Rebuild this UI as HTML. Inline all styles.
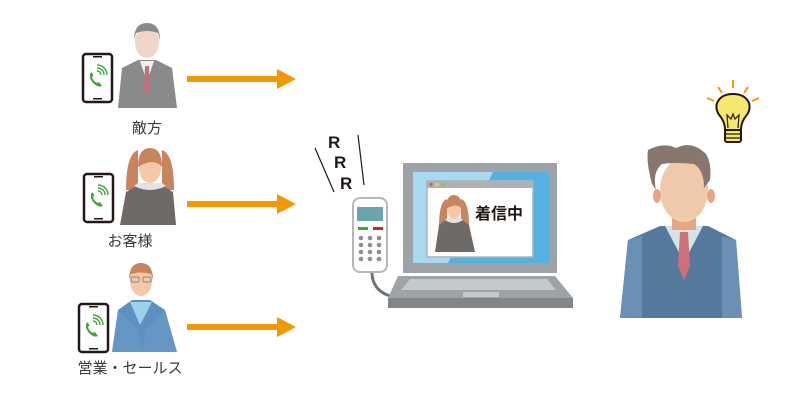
<!DOCTYPE html>
<html><head><meta charset="utf-8"><style>body{margin:0;background:#fff}svg{display:block}text{font-family:"Liberation Sans","Noto Sans CJK JP",sans-serif}</style></head><body>
<svg width="800" height="400" viewBox="0 0 800 400">
<defs>
<g id="ph"><rect x="0" y="0" width="29" height="48" rx="3" fill="#fff" stroke="#231815" stroke-width="2.5"/><rect x="10" y="2" width="9" height="1.5" fill="#231815"/><rect x="10" y="44" width="9" height="1.5" fill="#231815"/>
<path d="M8 18 q-3 5 2 11 q5 5 9 3 l-3 -4 l-2 1 q-4 -2 -5 -6 l1.5 -2z" fill="#3fa535"/><path d="M14 17 a4 4 0 0 1 4 4 M14 14 a7 7 0 0 1 7 7 M14 11 a10 10 0 0 1 10 10" stroke="#3fa535" stroke-width="1.4" fill="none"/></g>
</defs>
<!-- row1 -->
<use href="#ph" x="83" y="54"/>
<path d="M118 108 L122 68 L138 60 L156 60 L172 68 L177 108Z" fill="#8a8a8a"/>
<path d="M140 61 L147 82 L154 61Z" fill="#f1f1f1"/><path d="M145 66 L149 66 L150 90 L147 96 L144 90Z" fill="#c0727c"/>
<ellipse cx="147" cy="42" rx="12" ry="16" fill="#f1d5c6"/><path d="M134 40 q0 -17 13 -17 q13 0 13 17 l-2 -7 q-11 -4 -22 0z" fill="#8a8a8a"/>
<text x="147" y="133" font-size="15" fill="#3a3a3a" text-anchor="middle">敵方</text>
<!-- row2 -->
<use href="#ph" x="84" y="174"/>
<path d="M138 150 q-12 4 -12 40 l12 0z M162 150 q12 4 12 40 l-12 0z" fill="#c8845d"/>
<path d="M120 225 L126 192 L140 184 L160 184 L173 192 L176 225Z" fill="#6d6a68"/>
<path d="M134 186 q16 8 32 0 l-4 -3 l-24 0z" fill="#e2e2e8"/>
<ellipse cx="150" cy="168" rx="11" ry="15" fill="#f4c8a8"/><path d="M138 167 q0 -19 12 -19 q12 0 12 19 q-8 -10 -24 0z" fill="#c8845d"/>
<text x="130" y="246" font-size="15" fill="#3a3a3a" text-anchor="middle">お客様</text>
<!-- row3 -->
<use href="#ph" x="79" y="304"/>
<path d="M112 352 L118 310 L132 300 L150 300 L165 310 L177 352Z" fill="#5f8fbf"/>
<path d="M130 302 L140 325 L152 302Z" fill="#9ed0ea"/><path d="M118 310 L138 330 L142 352 L112 352Z M165 310 L146 330 L142 352 L177 352Z" fill="#6a9bc8" opacity=".6"/>
<ellipse cx="141" cy="281" rx="11" ry="15" fill="#f4c8a8"/><path d="M129 280 q0 -17 12 -17 q12 0 12 17 l-2 -6 q-10 -3 -20 0z" fill="#c8845d"/>
<rect x="131" y="277" width="8" height="5" rx="1" fill="none" stroke="#888"/><rect x="143" y="277" width="8" height="5" rx="1" fill="none" stroke="#888"/>
<text x="130" y="373" font-size="15" fill="#3a3a3a" text-anchor="middle">営業・セールス</text>
<!-- arrows -->
<g fill="#f39800"><rect x="187" y="76" width="92" height="6"/><path d="M277 69 L296 79 L277 89Z"/>
<rect x="187" y="201" width="92" height="6"/><path d="M277 194 L296 204 L277 214Z"/>
<rect x="187" y="324" width="92" height="6"/><path d="M277 317 L296 327 L277 337Z"/></g>
<!-- RRR -->
<g font-size="17" font-weight="bold" fill="#231815"><text x="328" y="148">R</text><text x="334" y="168">R</text><text x="340" y="189">R</text></g>
<path d="M315 148 L334 192 M358 135 L364 185" stroke="#231815" stroke-width="1.2"/>
<!-- handset -->
<path d="M372 272 q0 18 18 24" stroke="#6f7577" stroke-width="3" fill="none"/>
<rect x="353" y="198" width="34" height="74" rx="7" fill="#fff" stroke="#b5b8ba" stroke-width="2"/>
<rect x="357" y="207" width="26" height="14" fill="#6aa5ad"/>
<rect x="358" y="227" width="10" height="3" fill="#3fa535"/><rect x="373" y="227" width="10" height="3" fill="#c8282e"/>
<g fill="#8c9093"><circle cx="361" cy="238" r="2.3"/><circle cx="370" cy="238" r="2.3"/><circle cx="379" cy="238" r="2.3"/><circle cx="361" cy="245" r="2.3"/><circle cx="370" cy="245" r="2.3"/><circle cx="379" cy="245" r="2.3"/><circle cx="361" cy="252" r="2.3"/><circle cx="370" cy="252" r="2.3"/><circle cx="379" cy="252" r="2.3"/><circle cx="361" cy="259" r="2.3"/><circle cx="370" cy="259" r="2.3"/><circle cx="379" cy="259" r="2.3"/></g>
<!-- laptop -->
<rect x="403" y="163" width="154" height="110" fill="#9ea3a7"/>
<rect x="413" y="172" width="136" height="91" fill="#55b2e0"/>
<path d="M413 172 L493 172 L448 263 L413 263Z" fill="#a9d9f0"/>
<rect x="427" y="181" width="106" height="76" fill="#fff" stroke="#aeb2b5" stroke-width="1.5"/>
<rect x="427" y="181" width="106" height="7" fill="#aeb2b5"/>
<circle cx="431" cy="184.5" r="1.8" fill="#e06a2b"/><circle cx="437" cy="184.5" r="1.8" fill="#f5cc3b"/><circle cx="443" cy="184.5" r="1.8" fill="#8cc63f"/>
<path d="M447 199 q-8 2 -8 28 l8 0z M461 199 q8 2 8 28 l-8 0z" fill="#c8845d"/>
<path d="M435 252 L439 225 L447 219 L461 219 L469 225 L475 252Z" fill="#6d6a68"/>
<path d="M445 220 q9 6 18 0 l-3 -2 l-12 0z" fill="#e2e2e8"/>
<ellipse cx="454" cy="209" rx="7" ry="10" fill="#f4c8a8"/><path d="M446 209 q0 -14 8 -14 q8 0 8 14 q-5 -7 -16 0z" fill="#c8845d"/>
<text x="499" y="219" font-size="16" font-weight="bold" fill="#231815" text-anchor="middle">着信中</text>
<path d="M398 276 L555 276 L573 298 L388 298Z" fill="#9ea3a7"/>
<path d="M410 279 L547 279 L556 290 L401 290Z" fill="#c5c9cb"/>
<rect x="463" y="292" width="36" height="5" fill="#c5c9cb"/>
<rect x="388" y="298" width="185" height="10" fill="#7f8589"/>
<!-- right man -->
<path d="M620 318 L628 240 L660 226 L708 226 L736 240 L742 318Z" fill="#55799d"/>
<path d="M620 318 L628 240 L642 236 L642 318Z M742 318 L736 240 L722 236 L722 318Z" fill="#6a90b5"/>
<path d="M665 226 L684 262 L703 226Z" fill="#d3e3e6"/>
<path d="M660 228 L684 282 L668 246Z M708 228 L684 282 L700 246Z" fill="#406485"/>
<path d="M680 232 L688 232 L690 266 L684 280 L678 266Z" fill="#cd7078"/>
<rect x="672" y="210" width="24" height="20" fill="#e3a883"/>
<ellipse cx="684" cy="190" rx="24" ry="32" fill="#efc9a9"/>
<ellipse cx="657" cy="196" rx="4" ry="7" fill="#e3a883"/><ellipse cx="711" cy="196" rx="4" ry="7" fill="#e3a883"/>
<path d="M648 150 q16 -8 28 -2 q16 -8 30 6 q6 10 4 26 l-6 8 q0 -18 -10 -24 q-20 -2 -32 0 q-10 8 -6 26 l-4 -6 q-6 -22 -4 -34z" fill="#87776e"/>
<!-- bulb -->
<g stroke="#f39800" stroke-width="2"><path d="M733 80 L733 88 M718 87 L722 93 M748 87 L744 93 M707 98 L714 101 M759 98 L752 101"/></g>
<path d="M725 130 q0 -8 -5 -14 q-5 -6 -3 -13 q4 -9 16 -9 q12 0 16 9 q2 7 -3 13 q-5 6 -5 14z" fill="#f6e86a" stroke="#231815" stroke-width="2"/>
<path d="M728 128 L727 115 L731 119 L733 114 L735 119 L739 115 L738 128" stroke="#231815" stroke-width="1.2" fill="none"/>
<rect x="725" y="130" width="16" height="12" rx="2" fill="#f6e86a" stroke="#231815" stroke-width="2"/>
<path d="M726 134 L740 134 M726 138 L740 138" stroke="#231815" stroke-width="1.3"/>
</svg>
</body></html>
